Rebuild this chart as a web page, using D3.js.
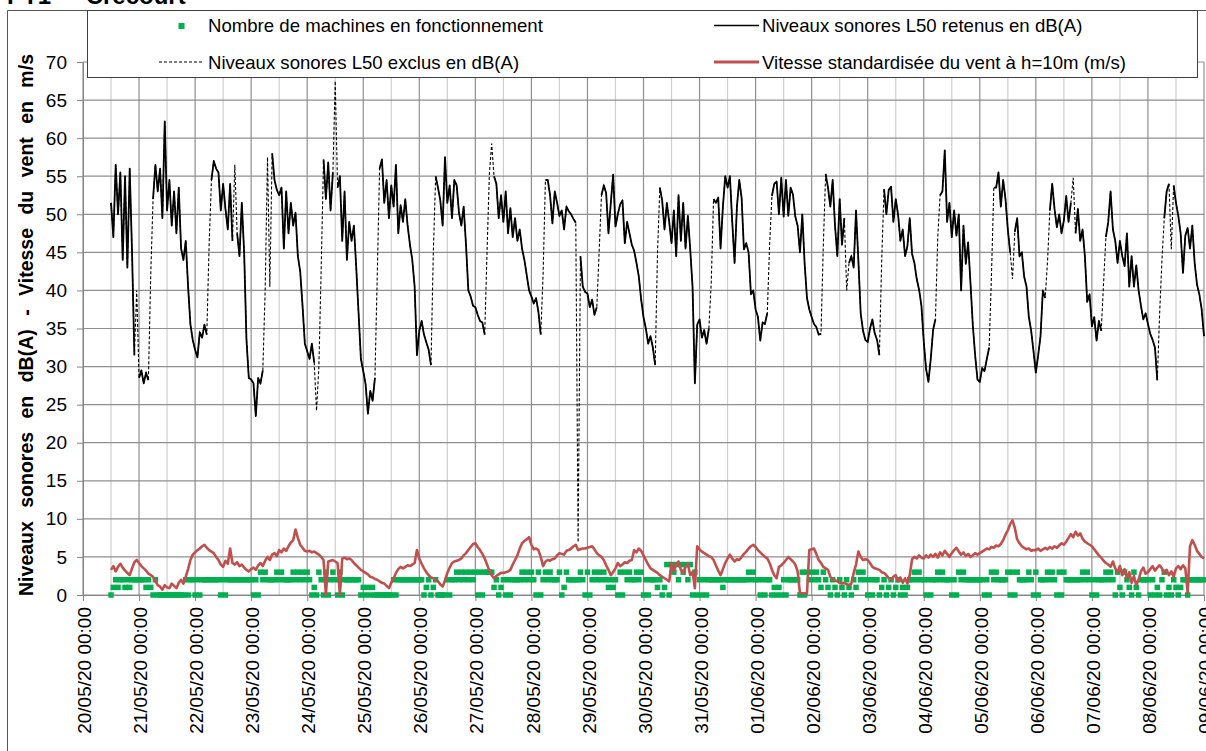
<!DOCTYPE html>
<html>
<head>
<meta charset="utf-8">
<script src="https://cdn.jsdelivr.net/npm/d3@7"></script>
<style>
body { margin: 0; background: #fff; }
svg { display: block; font-family: "Liberation Sans", Arial, sans-serif; }
</style>
</head>
<body>
<div id="chart"></div>
<script>
// tick labels
var joursLabels = ['20/05/20 00:00', '21/05/20 00:00', '22/05/20 00:00', '23/05/20 00:00', '24/05/20 00:00',
	'25/05/20 00:00', '26/05/20 00:00', '27/05/20 00:00', '28/05/20 00:00', '29/05/20 00:00', '30/05/20 00:00',
	'31/05/20 00:00', '01/06/20 00:00', '02/06/20 00:00', '03/06/20 00:00', '04/06/20 00:00', '05/06/20 00:00',
	'06/06/20 00:00', '07/06/20 00:00', '08/06/20 00:00', '09/06/20 00:00'];
var yTicks = [0, 5, 10, 15, 20, 25, 30, 35, 40, 45, 50, 55, 60, 65, 70];

// hourly values, first point 20/05/20 12:00, last point 09/06/20 00:00
var heureDebut = 12;

var l50 = [
	51.5, 47, 56.5, 50, 55.5, 44, 55, 43, 56, 45, 31.5, 40, // 20/05 (12h-23h)
	28.5, 29.5, 27.8, 29.2, 28.2, 42, 52, 56.5, 53, 56, 49.5, 62.2, 50.5, 54.5, 48.5, 53, 47.5, 53.5, 45.5, 44, 46.5, 40.5, 35.5, 33.5, // 21/05
	32.2, 31.2, 34.5, 33.8, 35.5, 34.2, 46, 54.5, 57, 56, 55.5, 50.5, 54, 50.7, 48, 54, 46.5, 56.5, 47.5, 44.5, 51.5, 45, 33.5, 28.5, // 22/05
	28.3, 27.8, 23.5, 28.5, 27.8, 29.5, 40, 57.5, 40.5, 58, 54.5, 53.2, 52.5, 53.5, 45.5, 53, 47.5, 51.5, 48.5, 50.2, 44.5, 42.5, 38, 33, // 23/05
	32, 31, 33, 30.5, 24.2, 30, 43, 57.2, 52, 56.8, 50.5, 55.5, 67.5, 53.5, 55, 46.5, 53, 44, 49, 46.5, 48.5, 43, 37, 31, // 24/05
	29.4, 27.7, 23.8, 26.8, 25.5, 28.5, 42, 56, 57.2, 51.5, 54.5, 49.5, 53.8, 51, 56.5, 47.5, 51.2, 49, 52, 48.5, 46, 44, 40.5, 31.5, // 25/05
	34.7, 36, 34.2, 33.2, 32.2, 30.2, 45, 55, 53.5, 51.8, 48.5, 57.5, 51.5, 53.8, 49.5, 54.5, 53.8, 50.2, 48.5, 51, 46, 40, 39.2, 38, // 26/05
	37.8, 36.8, 36, 35.8, 34.2, 45, 55.3, 59.3, 55, 54, 49.5, 52.5, 49, 53, 47.5, 50.8, 47, 49.5, 46.5, 48, 45.5, 44, 42, 40, // 27/05
	39.2, 38.3, 39, 37.2, 34.2, 42, 54.5, 54.5, 52.5, 48.8, 53, 51.5, 49.8, 50.5, 48, 51, 50.4, 50, 49.4, 48.9, 6.9, 44.5, 40.5, 39.8, // 28/05
	39.6, 37.8, 38.8, 36.8, 37.8, 45, 52.5, 53.8, 52.8, 47.5, 51.5, 55.2, 48.4, 50, 51.3, 51.8, 46.2, 49, 47.5, 46, 45.2, 43.6, 41.8, 38.8, // 29/05
	36.5, 35, 33, 34, 32.5, 30.2, 45, 53.5, 51.8, 48, 51.5, 49, 46.2, 50.5, 44.5, 52.5, 46.5, 51.5, 45.5, 49.8, 45.4, 40.5, 27.8, 35.5, // 30/05
	36.2, 33.8, 34.8, 33, 35, 41, 52, 51.5, 52.2, 45.5, 51, 55, 53.5, 55, 49, 43.6, 51, 54.5, 52.2, 45.4, 46.2, 45, 39.5, 40, // 31/05
	37.5, 36.5, 33.4, 35.8, 35.6, 37, 46, 52.4, 54, 54.3, 50, 54.8, 49.7, 54.5, 49.8, 53.5, 52.6, 49.7, 48.5, 45, 50, 43.5, 39, 37.5, // 01/06
	36.5, 35.6, 35.2, 34.2, 34.3, 46, 55.3, 53.5, 51, 54.5, 48.5, 44.5, 52, 46, 49.5, 40, 43.6, 44.5, 43, 50.5, 44, 37, 34.7, 33.5, // 02/06
	33.2, 35, 36.2, 34.4, 33.5, 31.5, 44, 53.3, 50, 53.2, 53.6, 49, 52, 50, 46.5, 48, 44.5, 45.8, 49.5, 44.8, 43.6, 41.5, 40.1, 38, // 03/06
	33.3, 29.7, 28, 31, 34.8, 36.2, 47, 52.5, 53, 58.4, 49, 51.5, 47, 50.5, 47.2, 50, 40, 48.5, 43.5, 46.3, 41, 35.5, 31.5, 28.3, // 04/06
	28, 29.8, 29.4, 31, 32.5, 42, 53.5, 53.5, 55.5, 51, 54.5, 52, 48, 45, 41.5, 47.7, 49.5, 44.5, 45, 41.8, 40.5, 36.5, 34.7, 32, // 05/06
	29.2, 31.5, 34, 40, 39, 43.8, 50.5, 54, 50.7, 48.3, 50, 47.5, 49.2, 52.4, 49, 51.5, 54.8, 47.5, 50.7, 46.5, 48, 44.5, 38.5, 39.5, // 06/06
	35.3, 36.5, 33.4, 36, 34.7, 41, 47, 49, 53, 48, 46.5, 43.6, 46.5, 44.5, 43.2, 47.5, 40.5, 44.5, 40.5, 43.3, 40, 38, 36.2, 37, // 07/06
	35.6, 34.3, 33.5, 32.5, 28.2, 37, 44, 49.5, 53, 54, 45.4, 53.8, 51.5, 49.8, 47.5, 42.3, 47.2, 48.2, 45.5, 48.5, 43.6, 40.8, 39.5, 37.5, // 08/06
	34 // 09/06 00h
];

// hours (counted from 20/05 00:00) whose L50 is excluded
var exclus = [23, 29, 54, 65, 78, 80, 100, 102, 108, 126, 150, 173, 175, 197, 212, 221, 246, 269, 294,
	317, 327, 342, 366, 389, 398, 413, 424, 437, 461, 462, 466];

var vent = [
	3.3, 3.8, 3.1, 3.7, 4.1, 3.6, 3.2, 2.9, 2.6, 3.5, 4.3, 4.6, // 20/05 (12h-23h)
	4.2, 3.8, 3.5, 3.2, 2.8, 2.6, 2.4, 1.8, 1.3, 1.1, 0.7, 1.3, 1.0, 0.9, 1.5, 1.2, 0.9, 1.6, 2.0, 1.5, 2.4, 3.4, 4.6, 5.3, // 21/05
	5.6, 5.9, 6.1, 6.4, 6.6, 6.2, 5.9, 5.7, 5.5, 5.0, 4.6, 4.0, 3.7, 4.5, 4.1, 6.1, 4.2, 4.0, 4.3, 3.8, 4.0, 3.6, 3.3, 3.1, // 22/05
	3.4, 3.6, 3.3, 3.9, 4.2, 3.8, 4.5, 5.0, 4.6, 5.3, 5.5, 5.1, 5.9, 5.6, 6.1, 5.8, 6.4, 6.9, 7.2, 8.6, 7.5, 6.6, 6.2, 5.8, // 23/05
	5.7, 5.8, 5.6, 5.7, 5.5, 5.3, 5.0, 4.6, 0.0, 4.4, 4.5, 4.6, 4.4, 4.2, 0.0, 4.8, 4.9, 4.7, 4.8, 4.6, 4.2, 3.9, 3.6, 3.3, // 24/05
	3.1, 2.9, 2.7, 2.4, 2.3, 2.1, 2.0, 1.8, 1.6, 1.5, 1.2, 0.9, 1.6, 2.2, 2.9, 3.4, 3.7, 3.5, 3.7, 3.9, 3.8, 4.0, 4.2, 5.9, // 25/05
	4.8, 4.1, 3.5, 3.0, 2.6, 2.3, 2.2, 2.0, 1.8, 1.4, 1.1, 1.9, 2.9, 3.6, 4.2, 4.4, 4.5, 4.6, 4.8, 5.2, 5.5, 5.9, 6.3, 6.7, // 26/05
	6.8, 6.3, 5.9, 5.4, 4.8, 4.0, 3.2, 2.6, 2.2, 2.5, 2.7, 2.9, 2.9, 3.0, 3.1, 3.3, 4.0, 4.6, 5.2, 6.1, 6.8, 7.1, 7.3, 7.6, // 27/05
	6.6, 6.0, 6.1, 5.9, 5.0, 3.8, 4.4, 4.6, 4.5, 4.7, 4.8, 5.2, 5.5, 5.4, 5.3, 5.8, 5.9, 6.1, 6.4, 6.6, 5.9, 6.0, 6.1, 6.1, // 28/05
	6.2, 6.3, 6.4, 6.0, 5.5, 5.2, 5.0, 4.6, 3.9, 3.3, 2.6, 3.0, 3.5, 4.2, 3.8, 4.0, 4.3, 4.2, 4.5, 4.6, 5.9, 5.6, 6.1, 5.8, // 29/05
	5.2, 4.6, 4.0, 3.5, 3.3, 3.1, 2.9, 2.6, 2.4, 2.2, 2.0, 1.8, 4.2, 3.1, 4.0, 4.4, 3.3, 2.9, 3.7, 4.1, 2.6, 3.0, 0.9, 6.4, // 30/05
	6.0, 5.7, 5.5, 5.3, 5.1, 5.0, 4.6, 3.9, 3.2, 2.6, 3.4, 4.2, 4.8, 5.3, 4.8, 4.4, 4.7, 4.6, 5.0, 5.4, 5.7, 6.1, 6.4, 6.6, // 31/05
	6.3, 5.9, 5.6, 5.3, 5.0, 4.8, 4.2, 3.3, 2.6, 2.2, 3.7, 3.9, 4.2, 4.6, 5.0, 4.7, 4.4, 4.0, 3.1, 0.2, 0.2, 0.2, 0.2, 5.9, // 01/06
	6.0, 6.1, 5.4, 4.6, 4.2, 3.7, 3.5, 3.3, 2.4, 2.0, 1.9, 1.8, 1.6, 1.5, 1.6, 1.4, 1.3, 1.5, 2.9, 4.0, 5.7, 5.0, 4.6, 4.7, // 02/06
	4.6, 4.2, 3.7, 3.5, 3.4, 3.3, 3.0, 2.9, 2.6, 2.2, 2.0, 2.4, 2.6, 1.8, 2.3, 1.6, 2.2, 1.5, 2.6, 4.7, 5.0, 4.8, 5.2, 4.9, // 03/06
	4.8, 5.2, 4.9, 5.3, 5.0, 5.4, 4.9, 5.6, 5.2, 5.8, 5.4, 5.0, 5.5, 5.9, 6.2, 5.7, 5.3, 5.6, 5.1, 5.4, 5.0, 5.2, 5.5, 5.3, // 04/06
	5.5, 5.7, 5.9, 6.1, 6.0, 6.3, 6.2, 6.5, 6.4, 6.7, 7.2, 7.9, 8.5, 9.3, 9.8, 8.8, 7.3, 6.8, 6.4, 6.2, 6.0, 6.1, 5.8, 5.9, // 05/06
	5.9, 6.1, 5.8, 6.0, 6.2, 6.0, 6.3, 6.1, 6.4, 6.2, 6.5, 6.8, 6.6, 7.0, 7.5, 8.0, 7.6, 8.3, 7.8, 8.1, 7.4, 7.0, 6.8, 6.6, // 06/06
	6.4, 6.0, 5.6, 5.2, 4.9, 4.5, 4.2, 4.0, 3.7, 4.4, 3.5, 3.0, 3.8, 2.6, 3.4, 2.2, 3.0, 1.6, 2.5, 1.3, 2.0, 3.1, 3.6, 2.8, // 07/06
	3.0, 3.4, 3.8, 3.2, 3.6, 3.9, 3.5, 2.8, 3.3, 2.6, 3.1, 2.4, 3.5, 3.8, 3.4, 3.9, 3.5, 0.3, 6.4, 7.2, 6.6, 5.8, 5.4, 5.0, // 08/06
	4.8 // 09/06 00h
];

// number of machines running, one digit per hour, one string per day
var machines = [
	'012122121222', // 20/05 (12h-23h)
	'222121020000000000002022', // 21/05
	'020222222220202222222222', // 22/05
	'202032322223232222323232', // 23/05
	'320103203023203022222220', // 24/05
	'101010000000020222222222', // 25/05
	'220120120000202232323232', // 26/05
	'303033331201202022223232', // 27/05
	'320302323222301322222320', // 28/05
	'302323232121203032322323', // 29/05
	'020222120140434243424030', // 30/05
	'202022222212222222222323', // 31/05
	'220202201010202222203032', // 01/06
	'323213210210210210213232', // 02/06
	'020220120120120101223232', // 03/06
	'202022323222020323222222', // 04/06
	'220203232222303032222320', // 05/06
	'302223232030322222223232', // 06/06
	'020222323203103210310222', // 07/06
	'202010230102101220222222', // 08/06
	'2' // 09/06 00h
];

var parseJour = d3.timeParse('%d/%m/%y %H:%M');
var jours = joursLabels.map(function(d) { return parseJour(d); });
var jour0 = jours[0];

function heure(h) { return d3.timeHour.offset(jour0, h); }

var points = l50.map(function(v, i) {
	var h = heureDebut + i;
	return {t: heure(h), v: v, exclu: exclus.indexOf(h) >= 0};
});
var ventPts = vent.map(function(v, i) { return {t: heure(heureDebut + i), v: v}; });
var machPts = machines.join('').split('').map(function(c, i) {
	return {t: heure(heureDebut + i), v: +c};
});

var width = 1206, height = 751;
var margin = {top: 62, right: 2, bottom: 156, left: 83};

var svg = d3.select('#chart').append('svg')
	.attr('width', width)
	.attr('height', height);

svg.append('rect').attr('width', width).attr('height', height).attr('fill', '#fff');

var x = d3.scaleTime()
	.domain([jours[0], jours[jours.length - 1]])
	.range([margin.left, width - margin.right]);
var y = d3.scaleLinear()
	.domain([0, 70])
	.range([height - margin.bottom, margin.top]);

// title (cut by the top of the image, as in the original)
svg.append('text')
	.attr('x', 7)
	.attr('y', 3.5)
	.attr('font-size', 24)
	.attr('font-weight', 'bold')
	.style('white-space', 'pre')
	.text('PT1  -  Crécourt');

// outer chart border
svg.append('path')
	.attr('d', 'M7.5,' + height + 'V10.5H' + width)
	.attr('fill', 'none')
	.attr('stroke', '#555');

// grid
var grid = svg.append('g');
grid.selectAll('.gx')
	.data(d3.timeHour.every(12).range(jours[0], d3.timeHour.offset(jours[jours.length - 1], 1)))
	.enter().append('line')
	.attr('x1', function(d) { return x(d); })
	.attr('x2', function(d) { return x(d); })
	.attr('y1', y(0))
	.attr('y2', y(70))
	.attr('stroke', function(d) { return d.getHours() === 12 ? '#cfcfcf' : '#8f8f8f'; })
	.attr('stroke-width', 1.2);
grid.selectAll('.gy')
	.data(yTicks)
	.enter().append('line')
	.attr('x1', x.range()[0])
	.attr('x2', x.range()[1])
	.attr('y1', function(d) { return y(d); })
	.attr('y2', function(d) { return y(d); })
	.attr('stroke', '#8f8f8f')
	.attr('stroke-width', 1.2);

// axes
var yAxis = svg.append('g')
	.attr('transform', 'translate(' + margin.left + ',0)')
	.call(d3.axisLeft(y).tickValues(yTicks).tickSize(6).tickPadding(10));
var xAxis = svg.append('g')
	.attr('transform', 'translate(0,' + y(0) + ')')
	.call(d3.axisBottom(x).tickValues(jours).tickSize(6).tickFormat(function(d, i) { return joursLabels[i]; }));

[yAxis, xAxis].forEach(function(a) {
	a.select('.domain').attr('stroke', '#868686');
	a.selectAll('.tick line').attr('stroke', '#868686');
	a.selectAll('text')
		.attr('fill', '#000')
		.attr('font-family', '"Liberation Sans", Arial, sans-serif')
		.attr('font-size', 19);
});
xAxis.selectAll('.tick text')
	.attr('text-anchor', 'end')
	.attr('transform', 'translate(0,12) rotate(-90)')
	.attr('x', 0)
	.attr('y', 0)
	.attr('dy', '0.4em');

// axis title
svg.append('text')
	.attr('transform', 'translate(33,325) rotate(-90)')
	.attr('text-anchor', 'middle')
	.attr('font-size', 19.5)
	.attr('font-weight', 'bold')
	.attr('word-spacing', 8)
	.text('Niveaux sonores en dB(A) - Vitesse du vent en m/s');

// series
var plot = svg.append('g');

plot.selectAll('.mach')
	.data(machPts)
	.enter().append('rect')
	.attr('x', function(d) { return x(d.t) - 2.75; })
	.attr('y', function(d) { return y(d.v) - 2.75; })
	.attr('width', 5.5)
	.attr('height', 5.5)
	.attr('fill', '#00b050');

var line = d3.line()
	.x(function(d) { return x(d.t); })
	.y(function(d) { return y(d.v); });

// all values, dashed (visible where the retained series has holes)
plot.append('path')
	.datum(points)
	.attr('d', line)
	.attr('fill', 'none')
	.attr('stroke', '#000')
	.attr('stroke-width', 1.1)
	.attr('stroke-dasharray', '3,2');

plot.append('path')
	.datum(points)
	.attr('d', d3.line()
		.defined(function(d) { return !d.exclu; })
		.x(function(d) { return x(d.t); })
		.y(function(d) { return y(d.v); }))
	.attr('fill', 'none')
	.attr('stroke', '#000')
	.attr('stroke-width', 1.8)
	.attr('stroke-linejoin', 'round');

plot.append('path')
	.datum(ventPts)
	.attr('d', line)
	.attr('fill', 'none')
	.attr('stroke', '#c0504d')
	.attr('stroke-width', 2.6)
	.attr('stroke-linejoin', 'round');

// legend
var legend = svg.append('g').attr('font-size', 18.6);
legend.append('rect')
	.attr('x', 87.5).attr('y', 10.5)
	.attr('width', 1110).attr('height', 67)
	.attr('fill', '#fff')
	.attr('stroke', '#404040');

legend.append('rect')
	.attr('x', 178.5).attr('y', 23).attr('width', 6).attr('height', 6)
	.attr('fill', '#00b050');
legend.append('text').attr('x', 208).attr('y', 32).text('Nombre de machines en fonctionnement');

legend.append('line')
	.attr('x1', 159).attr('x2', 204).attr('y1', 62).attr('y2', 62)
	.attr('stroke', '#000').attr('stroke-width', 1.1).attr('stroke-dasharray', '3,2');
legend.append('text').attr('x', 208).attr('y', 68.5).text('Niveaux sonores L50 exclus en dB(A)');

legend.append('line')
	.attr('x1', 714).attr('x2', 759).attr('y1', 25.5).attr('y2', 25.5)
	.attr('stroke', '#000').attr('stroke-width', 1.5);
legend.append('text').attr('x', 762).attr('y', 32).text('Niveaux sonores L50 retenus en dB(A)');

legend.append('line')
	.attr('x1', 714).attr('x2', 759).attr('y1', 62).attr('y2', 62)
	.attr('stroke', '#c0504d').attr('stroke-width', 3);
legend.append('text').attr('x', 762).attr('y', 68.5).text('Vitesse standardisée du vent à h=10m (m/s)');
</script>
</body>
</html>
